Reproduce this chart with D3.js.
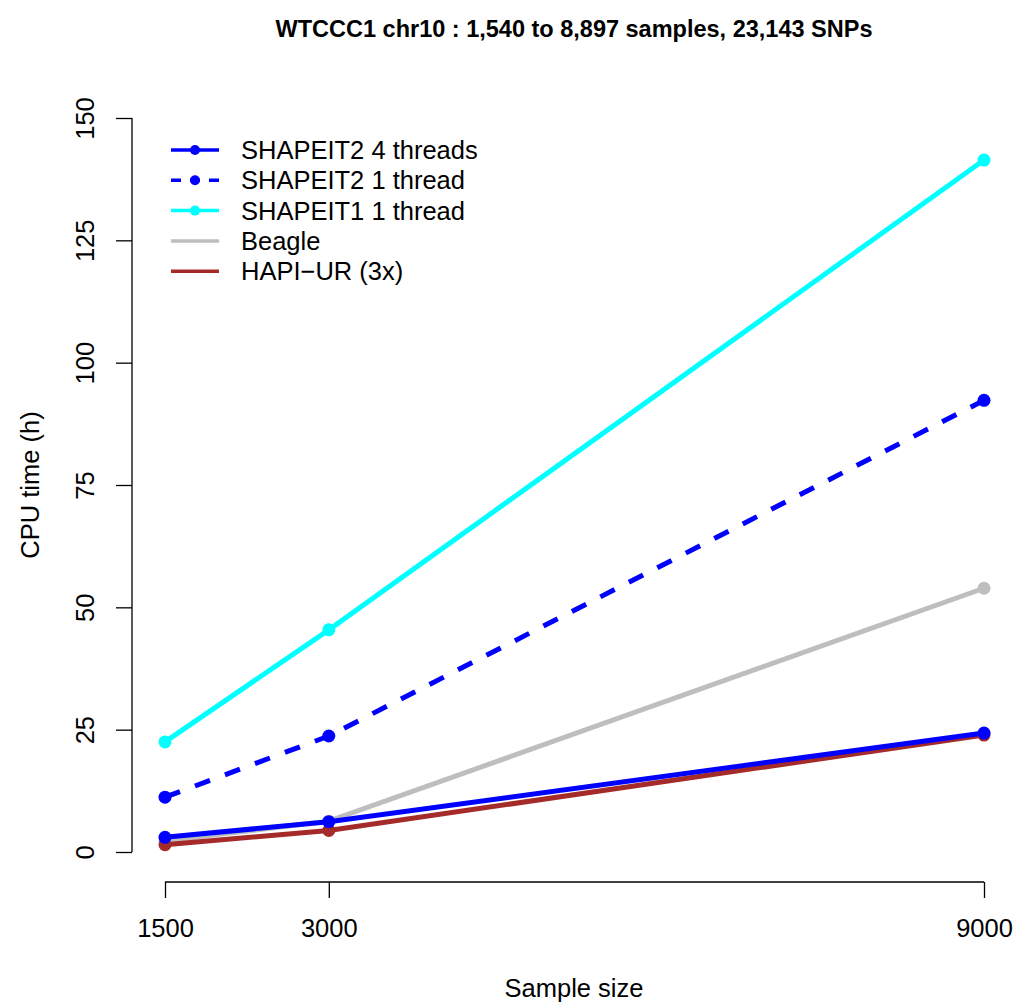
<!DOCTYPE html>
<html>
<head>
<meta charset="utf-8">
<script src="https://cdn.jsdelivr.net/npm/d3@7"></script>
<style>
  body { margin: 0; background: #fff; }
  text { font-family: "Liberation Sans", Arial, sans-serif; }
</style>
</head>
<body>
<svg id="chart" width="1016" height="1002"></svg>
<script>
// Sample sizes on the x axis
const sampleSizes = [1500, 3000, 9000];
// CPU time in hours per method
const shapeit2Four = [3.0, 6.2, 24.3];
const shapeit2One = [11.2, 23.7, 92.3];
const shapeit1One = [22.5, 45.4, 141.4];
const beagle = [2.3, 6.3, 53.9];
const hapiUr = [1.5, 4.4, 23.9];
// Axis ticks
const xTicks = [1500, 3000, 9000];
const yTicks = [0, 25, 50, 75, 100, 125, 150];

const FONT = '"Liberation Sans", Arial, sans-serif';
const svg = d3.select('#chart');

const x = d3.scaleLinear().domain([1500, 9000]).range([165, 984]);
const y = d3.scaleLinear().domain([0, 150]).range([852, 118]);

// Series in drawing order (last on top)
const series = [
  {name: 'SHAPEIT1 1 thread', values: shapeit1One, color: '#00FFFF', dash: null, legendPoint: true},
  {name: 'Beagle', values: beagle, color: '#BEBEBE', dash: null, legendPoint: false},
  {name: 'HAPI\u2212UR (3x)', values: hapiUr, color: '#A52A2A', dash: null, legendPoint: false},
  {name: 'SHAPEIT2 1 thread', values: shapeit2One, color: '#0000FF', dash: '16,16', legendPoint: true},
  {name: 'SHAPEIT2 4 threads', values: shapeit2Four, color: '#0000FF', dash: null, legendPoint: true}
];
const legendOrder = ['SHAPEIT2 4 threads', 'SHAPEIT2 1 thread', 'SHAPEIT1 1 thread', 'Beagle', 'HAPI\u2212UR (3x)'];

const line = d3.line()
  .x((d, i) => x(sampleSizes[i]))
  .y(d => y(d));

// Lines and points
for (const s of series) {
  const g = svg.append('g');
  g.append('path')
    .datum(s.values)
    .attr('d', line)
    .attr('fill', 'none')
    .attr('stroke', s.color)
    .attr('stroke-width', 5)
    .attr('stroke-dasharray', s.dash);
  g.selectAll('circle')
    .data(s.values)
    .join('circle')
    .attr('cx', (d, i) => x(sampleSizes[i]))
    .attr('cy', d => y(d))
    .attr('r', 6.5)
    .attr('fill', s.color);
}

// X axis
const xAxis = svg.append('g')
  .attr('transform', 'translate(0,882)')
  .call(d3.axisBottom(x).tickValues(xTicks).tickSize(16).tickPadding(21).tickFormat(d3.format('d')));
xAxis.select('.domain').attr('d', 'M' + x(1500) + ',0H' + x(9000)).attr('stroke-width', 1.3);
xAxis.selectAll('.tick line').attr('stroke-width', 1.3);
xAxis.selectAll('text').attr('font-size', 25.5).attr('font-family', FONT).attr('fill', '#000');

// Y axis
const yAxis = svg.append('g')
  .attr('transform', 'translate(132,0)')
  .call(d3.axisLeft(y).tickValues(yTicks).tickSize(16).tickPadding(0));
yAxis.select('.domain').attr('d', 'M0,' + y(0) + 'V' + y(150)).attr('stroke-width', 1.3);
yAxis.selectAll('.tick line').attr('stroke-width', 1.3);
yAxis.selectAll('text')
  .attr('x', 0).attr('dy', null)
  .attr('transform', 'translate(-45,0) rotate(-90)')
  .attr('text-anchor', 'middle')
  .attr('dominant-baseline', 'middle')
  .attr('font-size', 25.5)
  .attr('font-family', FONT)
  .attr('fill', '#000');

// Titles
svg.append('text')
  .attr('x', 574).attr('y', 37)
  .attr('text-anchor', 'middle')
  .attr('font-weight', 'bold')
  .attr('font-size', 23.5)
  .text('WTCCC1 chr10 : 1,540 to 8,897 samples, 23,143 SNPs');
svg.append('text')
  .attr('x', 574).attr('y', 997)
  .attr('text-anchor', 'middle')
  .attr('font-size', 25.5)
  .text('Sample size');
svg.append('text')
  .attr('transform', 'translate(39,485) rotate(-90)')
  .attr('text-anchor', 'middle')
  .attr('font-size', 25.5)
  .text('CPU time (h)');

// Legend
const legend = svg.append('g');
legendOrder.forEach((name, i) => {
  const s = series.find(d => d.name === name);
  const ly = 150 + i * 30.3;
  legend.append('line')
    .attr('x1', 171).attr('x2', 219)
    .attr('y1', ly).attr('y2', ly)
    .attr('stroke', s.color)
    .attr('stroke-width', 3.5)
    .attr('stroke-dasharray', s.dash ? '10,9' : null);
  if (s.legendPoint) {
    legend.append('circle')
      .attr('cx', 195).attr('cy', ly).attr('r', 5)
      .attr('fill', s.color);
  }
  legend.append('text')
    .attr('x', 241).attr('y', ly)
    .attr('dominant-baseline', 'central')
    .attr('font-size', 25.5)
    .text(name);
});
</script>
</body>
</html>
